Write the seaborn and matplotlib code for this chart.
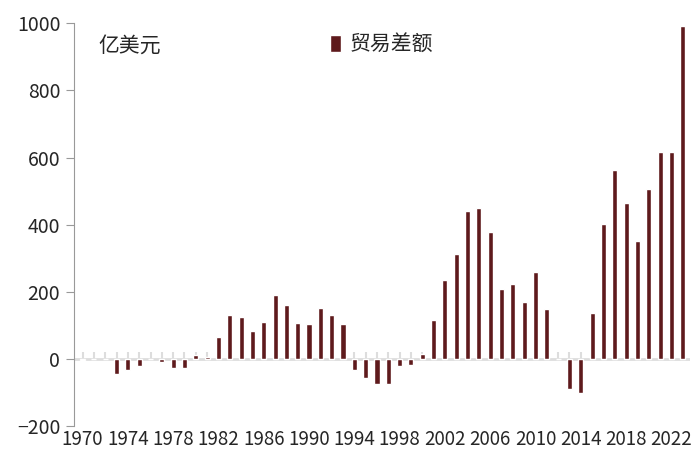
import matplotlib
matplotlib.use("Agg")
import matplotlib.pyplot as plt
import seaborn as sns
import pandas as pd

years = list(range(1970, 2024))
balance = [-3, 0, 0, -45, -33, -20, 0, -8, -27, -27,
           12, 7, 65, 132, 127, 83, 110, 192, 160, 107,
           104, 152, 132, 104, -33, -57, -73, -75, -20, -18,
           15, 118, 235, 312, 440, 450, 378, 210, 225, 170,
           258, 148, 0, -90, -100, 138, 402, 562, 465, 352,
           505, 615, 615, 990]

sns.set_style("white")
plt.rcParams['font.family'] = ['Noto Sans CJK SC', 'DejaVu Sans']

df = pd.DataFrame({"year": years, "贸易差额": balance})
fig, ax = plt.subplots(figsize=(7, 4.61), dpi=100)
sns.barplot(data=df, x="year", y="贸易差额", color="#5e1a1c", width=0.45,
            saturation=1, ax=ax, label="贸易差额")
ax.set_ylim(-200, 1000)
ax.set_yticks(range(-200, 1001, 200))
ax.set_xlim(-0.8, len(years) - 0.4)
ticks = [i for i, y in enumerate(years) if (y - 1970) % 4 == 0]
ax.set_xticks(ticks)
ax.set_xticklabels([str(years[i]) for i in ticks])
ax.tick_params(axis='x', length=0, labelsize=13.5, pad=2)
ax.tick_params(axis='y', length=6, color='#999999', labelsize=14, direction='out', left=True)
for s in ['top', 'right', 'bottom']:
    ax.spines[s].set_visible(False)
ax.spines['left'].set_color('#999999')
ax.set_xlabel("")
ax.set_ylabel("")
ax.axhline(0, color='#dddddd', lw=2, zorder=0)
sec = ax.secondary_xaxis(200 / 1200)
sec.set_xticks(range(len(years)))
sec.set_xticklabels([])
sec.tick_params(direction='in', length=5, color='#dddddd', width=1.5)
sec.spines['bottom'].set_visible(False)
ax.text(0.04, 0.97, "亿美元", transform=ax.transAxes, fontsize=15, va='top')
ax.legend(loc='upper center', bbox_to_anchor=(0.5, 1.02), frameon=False,
          fontsize=15, handlelength=0.5, handleheight=0.9, handletextpad=0.4)
fig.subplots_adjust(left=0.105, right=0.985, top=0.95, bottom=0.075)
fig.savefig("out.png")
